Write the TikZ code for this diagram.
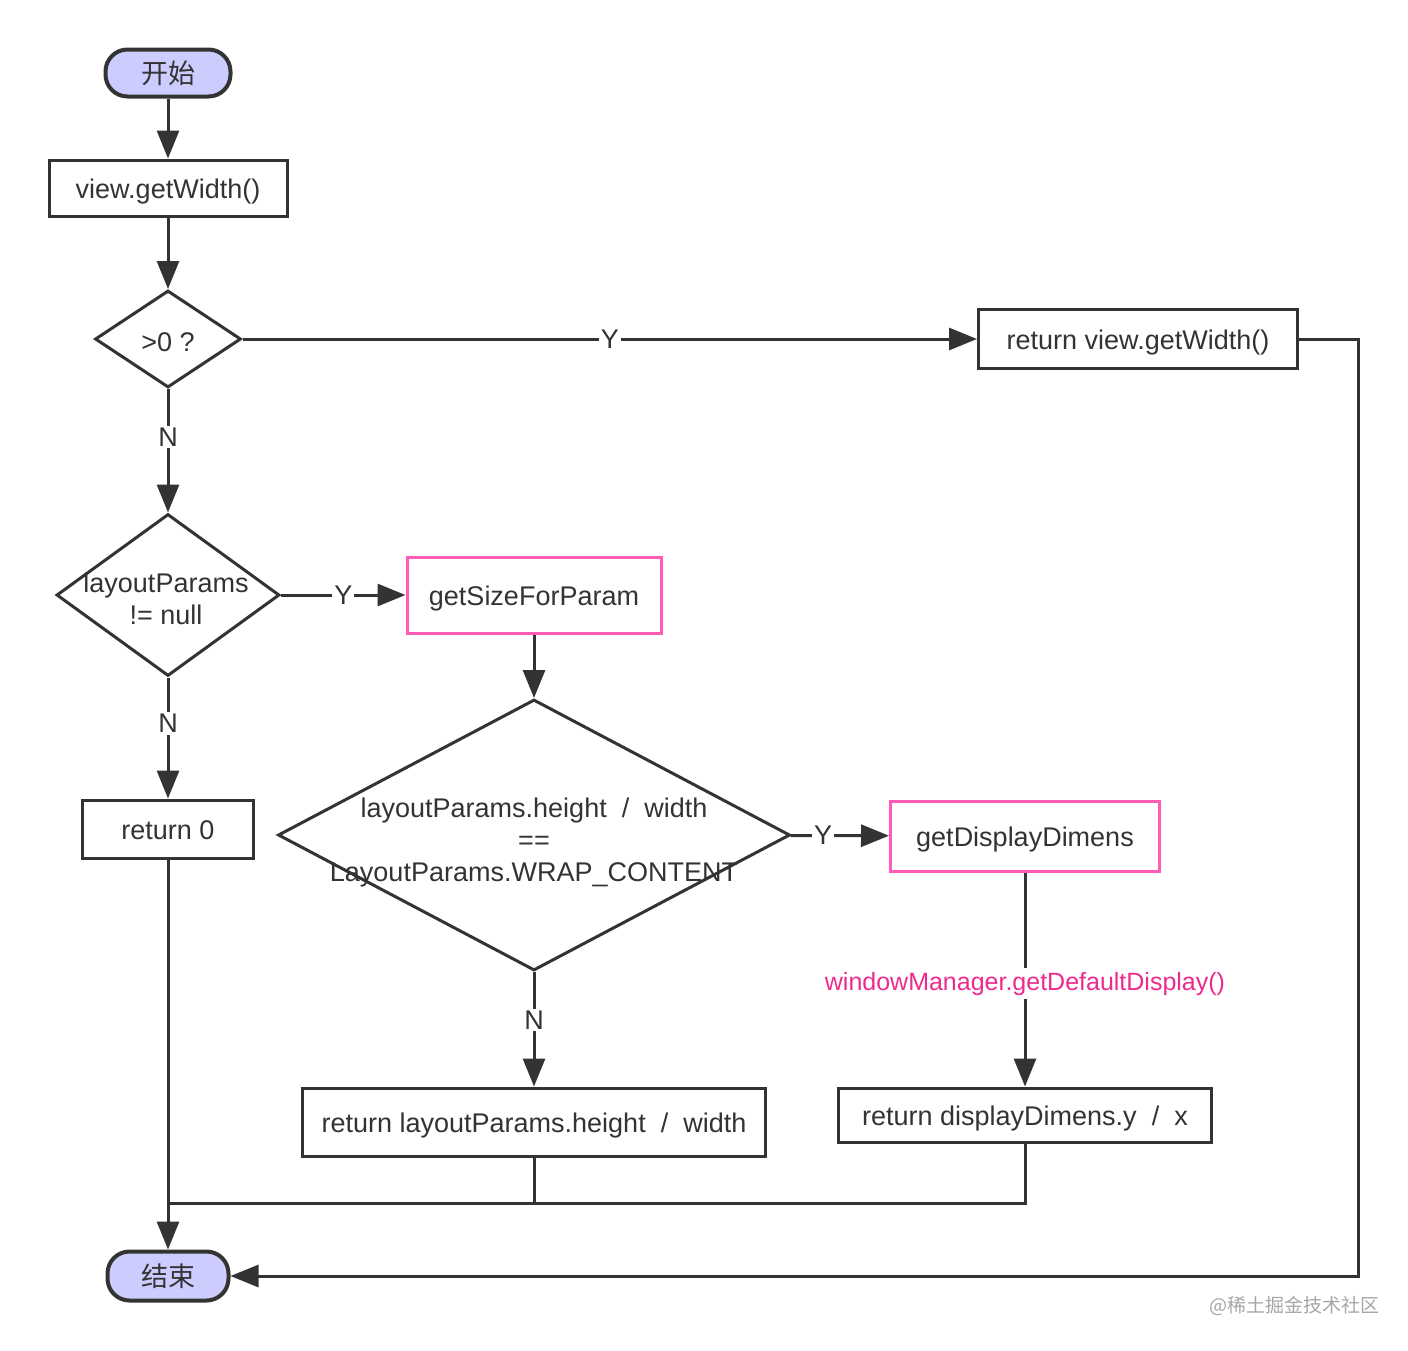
\documentclass[tikz,border=0pt]{standalone}
\usepackage{fontspec}
\setmainfont{Liberation Sans}
\newfontfamily\cjk{Noto Sans CJK SC}
\usetikzlibrary{shapes.geometric,arrows.meta}
\definecolor{linegray}{HTML}{333333}
\definecolor{termfill}{HTML}{CCCCFF}
\definecolor{hotpink}{HTML}{FF5CB8}
\definecolor{notepink}{HTML}{EE2A8E}
\tikzset{
  flow/.style={draw=linegray,line width=1.5pt,fill=white,text=linegray,inner sep=0pt,
    text height=1.25em,text depth=0.25em,font=\fontsize{13.5}{16}\selectfont},
  term/.style={flow,fill=termfill,rounded corners=11pt,line width=2pt,
    font=\cjk\fontsize{13.5}{16}\selectfont},
  proc/.style={flow,rectangle},
  call/.style={proc,draw=hotpink},
  decision/.style={flow,diamond},
  dtext/.style={align=center,text=linegray,inner sep=0pt,font=\fontsize{13.5}{16}\selectfont},
  wire/.style={draw=linegray,line width=1.5pt},
  arr/.style={wire,-{Triangle[length=14pt,width=11pt]}},
  yn/.style={fill=white,inner sep=1pt,text=linegray,font=\fontsize{13.5}{16}\selectfont}
}
\begin{document}
\begin{tikzpicture}[x=0.5pt,y=-0.5pt]
\fill[white] (0,0) rectangle (1408,1350);
\useasboundingbox (0,0) rectangle (1408,1350);
% Drawing nodes
\node[term,minimum width=62.5pt,minimum height=23.5pt] (start) at (168,73) {开始};
\node[proc,minimum width=119pt,minimum height=28pt] (view) at (168,188) {view.getWidth()};
\node[decision,minimum width=73pt,minimum height=48.5pt] (gt) at (168,339) {};
\node[dtext] (gt-txt) at (168,342) {>0 ?};
\node[proc,minimum width=159.5pt,minimum height=29.5pt] (retw) at (1138,339) {return view.getWidth()};
\node[decision,minimum width=111.5pt,minimum height=81pt] (nonnull) at (168,595) {};
\node[dtext] (nonnull-txt) at (166,599) {layoutParams\\!= null};
\node[call,minimum width=127pt,minimum height=38pt] (sizep) at (534,595) {getSizeForParam};
\node[decision,minimum width=256pt,minimum height=135.5pt] (wrap) at (534,835) {};
\node[dtext] (wrap-txt) at (534,843) {layoutParams.height\ \ /\ \ width\\==\\LayoutParams.WRAP\_CONTENT};
\node[call,minimum width=134.5pt,minimum height=35pt] (disp) at (1025,836) {getDisplayDimens};
\node[proc,minimum width=85.5pt,minimum height=29pt] (ret0) at (168,829) {return 0};
\node[proc,minimum width=231.5pt,minimum height=34pt] (retlp) at (534,1122) {return layoutParams.height\ \ /\ \ width};
\node[proc,minimum width=186.5pt,minimum height=27pt] (retd) at (1025,1115) {return displayDimens.y\ \ /\ \ x};
\node[term,minimum width=60.5pt,minimum height=24.5pt] (end) at (168,1276) {结束};
\coordinate (join) at (168,1203);
\coordinate (rturn) at (1358,1276);
% Drawing connectors
\draw[arr] (start) -- (view);
\draw[arr] (view) -- (gt);
\draw[arr] (gt) -- node[yn,pos=0.5] {Y} (retw);
\draw[arr] (gt) -- node[yn,pos=0.39] {N} (nonnull);
\draw[arr] (nonnull) -- node[yn,pos=0.5] {Y} (sizep);
\draw[arr] (nonnull) -- node[yn,pos=0.38] {N} (ret0);
\draw[arr] (sizep) -- (wrap);
\draw[arr] (wrap) -- node[yn,pos=0.33] {Y} (disp);
\draw[arr] (wrap) -- node[yn,pos=0.42] {N} (retlp);
\draw[arr] (disp) -- node[fill=white,inner sep=2pt,text=notepink,font=\fontsize{12.5}{15}\selectfont,pos=0.52] {windowManager.getDefaultDisplay()} (retd);
\draw[arr] (ret0) -- (end);
\draw[wire] (retlp) |- (join);
\draw[wire] (retd) |- (join);
\draw[arr] (retw) -| (rturn) -- (end);
% Watermark
\node[text=black!35,font=\cjk\fontsize{9.5}{11}\selectfont,inner sep=0pt] (mark) at (1294,1306) {@稀土掘金技术社区};
\end{tikzpicture}
\end{document}
